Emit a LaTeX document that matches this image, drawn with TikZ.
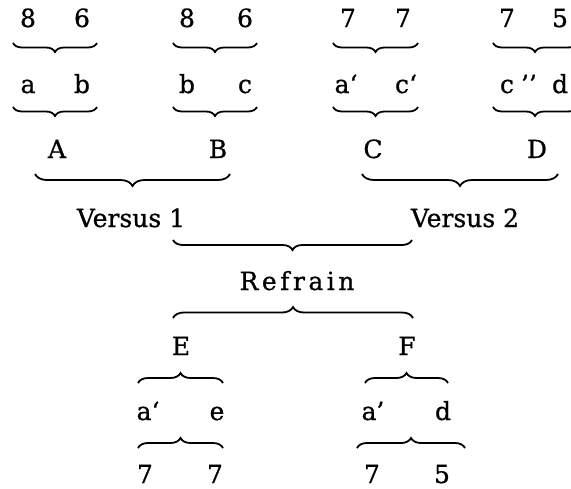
\documentclass[tikz,border=0pt]{standalone}
\usepackage{fontspec}
\setmainfont{DejaVu Serif}[FakeBold=0.8]
\usetikzlibrary{decorations.pathreplacing}
\begin{document}
\begin{tikzpicture}[x=1pt,y=-1pt,
  lbl/.style={font=\fontsize{25}{30}\selectfont, inner sep=0pt, anchor=base},
  under/.style={line width=1.8pt, decorate, decoration={brace,mirror,amplitude=#1}},
  over/.style={line width=1.8pt, decorate, decoration={brace,amplitude=#1}}]
\useasboundingbox (0,0) rectangle (571,488);
% row 1: syllable counts
\node[lbl] (n1) at (28,27) {8};
\node[lbl] (n2) at (82,27) {6};
\node[lbl] (n3) at (187,27) {8};
\node[lbl] (n4) at (245,27) {6};
\node[lbl] (n5) at (348,27) {7};
\node[lbl] (n6) at (403,27) {7};
\node[lbl] (n7) at (507,27) {7};
\node[lbl] (n8) at (560,27) {5};
% row 2: rhymes
\node[lbl] (r1) at (28,93) {a};
\node[lbl] (r2) at (82,93) {b};
\node[lbl] (r3) at (187,93) {b};
\node[lbl] (r4) at (245,93) {c};
\node[lbl] (r5) at (346,93) {a‘};
\node[lbl] (r6) at (406,93) {c‘};
\node[lbl] (r7) at (507,93) {c};
\node[lbl] (r7b) at (529,93) {’’};
\node[lbl] (r8) at (560,93) {d};
% row 3
\node[lbl] (A) at (57,158) {A};
\node[lbl] (B) at (218,158) {B};
\node[lbl] (C) at (373,158) {C};
\node[lbl] (D) at (537,158) {D};
% row 4
\node[lbl] (V1) at (131,227) {Versus 1};
\node[lbl] (V2) at (465,227) {Versus 2};
% row 5
\node[lbl] (R) at (297,290) {R\hspace{3.5pt}e\hspace{3.5pt}f\hspace{3.5pt}r\hspace{3.5pt}a\hspace{3.5pt}i\hspace{3.5pt}n};
% row 6
\node[lbl] (E) at (181,355) {E};
\node[lbl] (F) at (407,355) {F};
% row 7
\node[lbl] (s1) at (148,420) {a‘};
\node[lbl] (s2) at (217,420) {e};
\node[lbl] (s3) at (373,420) {a’};
\node[lbl] (s4) at (443,420) {d};
% row 8
\node[lbl] (m1) at (145,483) {7};
\node[lbl] (m2) at (215,483) {7};
\node[lbl] (m3) at (372,483) {7};
\node[lbl] (m4) at (442,483) {5};
% brace end points
\coordinate (a1) at (13,43);  \coordinate (a2) at (97,43);
\coordinate (a3) at (173,43); \coordinate (a4) at (257,43);
\coordinate (a5) at (333,43); \coordinate (a6) at (418,43);
\coordinate (a7) at (493,43); \coordinate (a8) at (577,43);
\coordinate (b1) at (13,107);  \coordinate (b2) at (97,107);
\coordinate (b3) at (173,107); \coordinate (b4) at (257,107);
\coordinate (b5) at (333,107); \coordinate (b6) at (418,107);
\coordinate (b7) at (493,107); \coordinate (b8) at (577,107);
\coordinate (c1) at (35,174);  \coordinate (c2) at (230,174);
\coordinate (c3) at (362,174); \coordinate (c4) at (558,174);
\coordinate (d1) at (173,240); \coordinate (d2) at (412,240);
\coordinate (e1) at (173,318); \coordinate (e2) at (413,318);
\coordinate (f1) at (138,383); \coordinate (f2) at (223,383);
\coordinate (f3) at (365,383); \coordinate (f4) at (448,383);
\coordinate (g1) at (138,448); \coordinate (g2) at (223,448);
\coordinate (g3) at (357,448); \coordinate (g4) at (465,448);
% braces
\draw[under=9pt] (a1) -- (a2);
\draw[under=9pt] (a3) -- (a4);
\draw[under=9pt] (a5) -- (a6);
\draw[under=9pt] (a7) -- (a8);
\draw[under=9pt] (b1) -- (b2);
\draw[under=9pt] (b3) -- (b4);
\draw[under=9pt] (b5) -- (b6);
\draw[under=9pt] (b7) -- (b8);
\draw[under=12pt] (c1) -- (c2);
\draw[under=12pt] (c3) -- (c4);
\draw[under=10pt] (d1) -- (d2);
\draw[over=11pt] (e1) -- (e2);
\draw[over=10pt] (f1) -- (f2);
\draw[over=10pt] (f3) -- (f4);
\draw[over=10pt] (g1) -- (g2);
\draw[over=10pt] (g3) -- (g4);
\end{tikzpicture}
\end{document}
